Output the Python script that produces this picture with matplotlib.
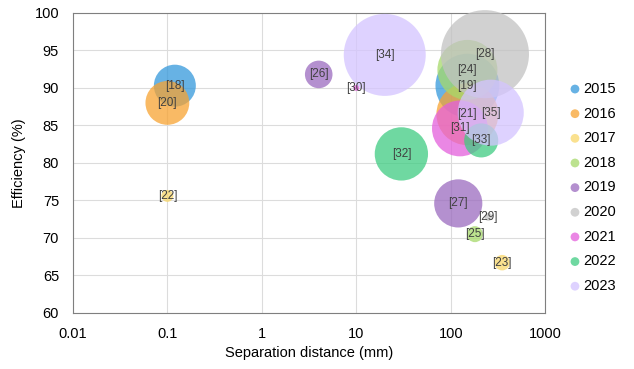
import matplotlib
matplotlib.use("Agg")
import matplotlib.pyplot as plt
import numpy as np

# data
years = [2015, 2016, 2017, 2018, 2019, 2020, 2021, 2022, 2023]
colors = ['#3498db', '#f7a331', '#f9d76a', '#a6d96a', '#9b6bbf',
          '#c2c2c2', '#e45fdc', '#3fcc82', '#d4c4ff']

ref = [18, 19, 20, 21, 22, 23, 24, 25, 26, 27, 28, 29, 30, 31, 32, 33, 34, 35]
year = [2015, 2015, 2016, 2016, 2017, 2017, 2018, 2018, 2019, 2019,
        2020, 2020, 2021, 2021, 2022, 2022, 2023, 2023]
dist = [0.12, 150, 0.1, 150, 0.1, 350, 150, 180, 4, 120,
        230, 250, 10, 125, 30, 210, 20, 265]
eff = [90.3, 90.3, 88.0, 86.5, 75.6, 66.7, 92.4, 70.5, 91.8, 74.6,
       94.5, 72.8, 90.0, 84.6, 81.2, 83.0, 94.4, 86.7]
size = [440, 1020, 480, 960, 36, 60, 900, 64, 190, 580,
        1940, 16, 9, 780, 710, 290, 1680, 1090]

plt.rcParams['font.family'] = ['Liberation Sans', 'DejaVu Sans']

fig = plt.figure(figsize=(6.34, 3.69), dpi=100)
ax = fig.add_axes([0.115, 0.152, 0.745, 0.813])

k = (2 * 0.72) ** 2
for yr, c in zip(years, colors):
    idx = [i for i in range(len(ref)) if year[i] == yr]
    ax.scatter([dist[i] for i in idx], [eff[i] for i in idx],
               s=[size[i] * k for i in idx], color=c, alpha=0.75,
               edgecolors='none', label=str(yr), clip_on=False, zorder=3)

for i in range(len(ref)):
    ax.text(dist[i], eff[i], '[%d]' % ref[i], ha='center', va='center',
            fontsize=8.5, color='#404040', zorder=5)

ax.set_xscale('log')
ax.set_xlim(0.01, 1000)
ax.set_ylim(60, 100)
ax.set_xticks([0.01, 0.1, 1, 10, 100, 1000])
ax.set_xticklabels(['0.01', '0.1', '1', '10', '100', '1000'])
ax.set_yticks(range(60, 101, 5))
ax.minorticks_off()
ax.tick_params(length=0, labelsize=10.5, colors='#000000')
ax.tick_params(axis='x', pad=10)
ax.tick_params(axis='y', pad=10)
ax.grid(True, color='#dcdcdc', linewidth=0.8, zorder=0)
ax.set_axisbelow(True)
for sp in ax.spines.values():
    sp.set_color('#7f7f7f')
    sp.set_linewidth(0.8)

ax.set_xlabel('Separation distance (mm)', fontsize=10.5, labelpad=4)
ax.set_ylabel('Efficiency (%)', fontsize=10.5, labelpad=6)

leg = fig.legend(loc='center left', bbox_to_anchor=(0.9, 0.492), frameon=False,
                 fontsize=10.5, handlelength=0.6, handletextpad=0.3,
                 labelspacing=0.73, borderpad=0, borderaxespad=0)
for h in leg.legend_handles:
    h.set_sizes([40])

fig.savefig('out.png', dpi=100)
